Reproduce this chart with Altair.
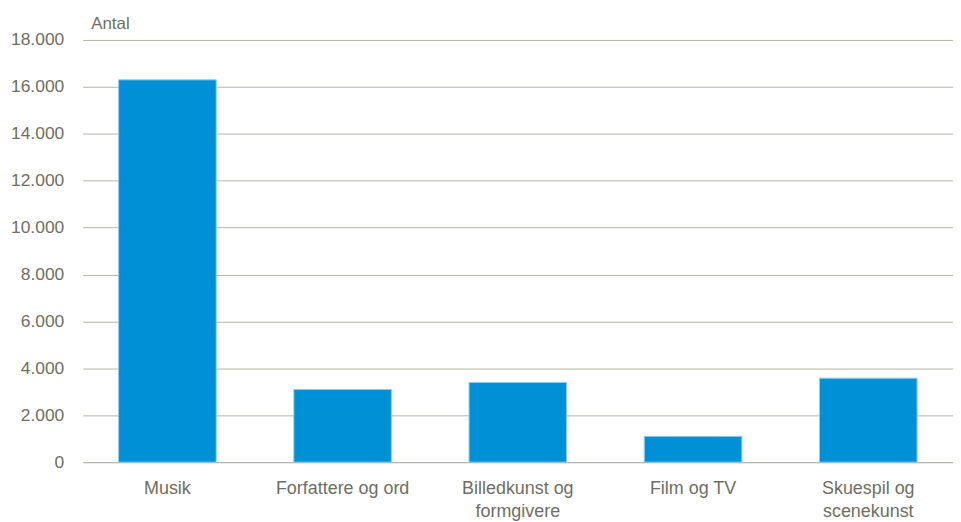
import altair as alt
import pandas as pd

categories = ["Musik", "Forfattere og ord", "Billedkunst og formgivere", "Film og TV", "Skuespil og scenekunst"]
values = [16300, 3100, 3400, 1100, 3580]
label_lines = {
    "Billedkunst og formgivere": ["Billedkunst og", "formgivere"],
    "Skuespil og scenekunst": ["Skuespil og", "scenekunst"],
}
y_ticks = [0, 2000, 4000, 6000, 8000, 10000, 12000, 14000, 16000, 18000]

df = pd.DataFrame({"kategori": categories, "antal": values})

expr = ""
for k, v in label_lines.items():
    expr += f"datum.label == '{k}' ? ['{v[0]}', '{v[1]}'] : "
expr += "datum.label"

text_color = "#6e6e62"
grid_color = "#b4b4a6"
font = "Liberation Sans"

chart = alt.Chart(df).mark_bar(
    color="#0090d6", stroke="#8fcdee", strokeWidth=1
).encode(
    x=alt.X("kategori:N", sort=categories, title=None,
            scale=alt.Scale(paddingInner=0.443, paddingOuter=0.205),
            axis=alt.Axis(labelAngle=0, labelExpr=expr, ticks=False, domain=True,
                          domainColor=grid_color, labelColor=text_color,
                          labelFont=font, labelFontSize=18,
                          labelPadding=17, labelBaseline="top", labelLineHeight=24,
                          labelLimit=300)),
    y=alt.Y("antal:Q", title="Antal",
            scale=alt.Scale(domain=[0, 18000], nice=False),
            axis=alt.Axis(values=y_ticks, format=",.0f", ticks=False, domain=False,
                          grid=True, gridColor=grid_color, gridWidth=1,
                          labelColor=text_color, labelFont=font,
                          labelFontSize=17.5, labelPadding=19,
                          labelExpr="replace(datum.label, ',', '.')",
                          titleAngle=0, titleAlign="left", titleBaseline="alphabetic",
                          titleX=8, titleY=-12, titleColor=text_color,
                          titleFont=font, titleFontSize=17,
                          titleFontWeight="normal")),
).properties(
    width=874, height=424,
    autosize=alt.AutoSizeParams(type="none"),
    padding={"left": 75, "top": 31, "right": 0, "bottom": 59},
).configure_view(stroke=None)

chart.save("out.html", embed_options={"renderer": "svg", "actions": False})
